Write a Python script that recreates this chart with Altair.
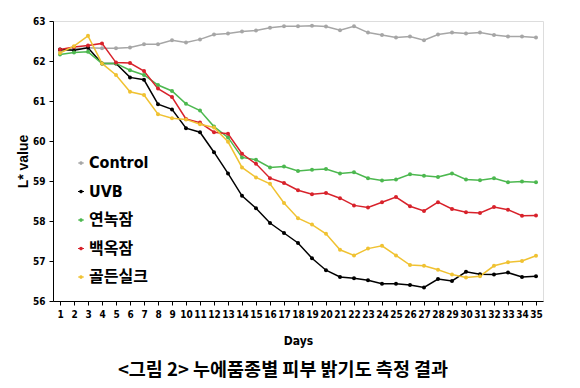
import altair as alt
import pandas as pd

days = list(range(1, 36))
series_names = ["Control", "UVB", "연녹잠", "백옥잠", "골든실크"]
series_colors = ["#a6a6a6", "#000000", "#4cb84f", "#d8222b", "#f0c232"]

control = [62.25, 62.30, 62.33, 62.32, 62.32, 62.34, 62.42, 62.42, 62.52, 62.46,
           62.54, 62.66, 62.69, 62.74, 62.76, 62.83, 62.87, 62.87, 62.88, 62.86,
           62.77, 62.87, 62.71, 62.65, 62.59, 62.61, 62.52, 62.66, 62.71, 62.69,
           62.71, 62.65, 62.61, 62.61, 62.59]
uvb = [62.29, 62.27, 62.33, 61.94, 61.94, 61.59, 61.53, 60.92, 60.79, 60.32,
       60.22, 59.72, 59.19, 58.63, 58.32, 57.95, 57.70, 57.45, 57.07, 56.77,
       56.60, 56.57, 56.52, 56.43, 56.43, 56.40, 56.34, 56.55, 56.50, 56.73,
       56.67, 56.66, 56.71, 56.60, 56.62]
yeonnok = [62.16, 62.21, 62.23, 61.94, 61.94, 61.77, 61.65, 61.40, 61.25, 60.93,
           60.76, 60.36, 60.09, 59.59, 59.53, 59.34, 59.36, 59.25, 59.28, 59.30,
           59.19, 59.22, 59.07, 59.01, 59.04, 59.17, 59.13, 59.10, 59.19, 59.04,
           59.02, 59.07, 58.97, 58.99, 58.97]
baekok = [62.29, 62.35, 62.39, 62.44, 61.96, 61.95, 61.75, 61.31, 61.10, 60.55,
          60.46, 60.22, 60.18, 59.68, 59.43, 59.07, 58.95, 58.77, 58.67, 58.70,
          58.57, 58.39, 58.34, 58.47, 58.60, 58.37, 58.25, 58.47, 58.30, 58.22,
          58.20, 58.35, 58.28, 58.13, 58.14]
golden = [62.20, 62.37, 62.63, 61.94, 61.65, 61.23, 61.15, 60.67, 60.57, 60.54,
          60.42, 60.34, 59.98, 59.34, 59.09, 58.93, 58.45, 58.07, 57.91, 57.68,
          57.28, 57.14, 57.31, 57.38, 57.14, 56.90, 56.88, 56.78, 56.66, 56.59,
          56.62, 56.88, 56.97, 57.00, 57.13]

values = [control, uvb, yeonnok, baekok, golden]
rows = []
for name, vals in zip(series_names, values):
    for d, v in zip(days, vals):
        rows.append({"Day": d, "L": v, "Series": name})
df = pd.DataFrame(rows)

NARROW = "Liberation Sans Narrow, Arial Narrow, DejaVu Sans Condensed, Liberation Sans, Noto Sans CJK KR"
SYMBOL = "M-1,0L1,0M-0.4,0A0.4,0.4,0,1,0,0.4,0A0.4,0.4,0,1,0,-0.4,0Z"

color = alt.Color(
    "Series:N",
    scale=alt.Scale(domain=series_names, range=series_colors),
    legend=alt.Legend(
        title=None, orient="none", legendX=20, legendY=134,
        labelFont=NARROW, labelFontSize=16, labelFontWeight="bold",
        labelColor="#000000", rowPadding=12.5, symbolType=SYMBOL,
        symbolSize=36, symbolStrokeWidth=1.2, labelOffset=0, padding=0,
    ),
)

x = alt.X(
    "Day:Q",
    scale=alt.Scale(domain=[0.5, 35.5], nice=False, zero=False),
    axis=alt.Axis(
        title="Days", values=days, format="d", grid=False,
        labelFont=NARROW, labelFontSize=10, labelFontWeight="bold",
        labelColor="#000000", titleFont=NARROW, titleFontSize=12,
        titleFontWeight="bold", titleColor="#000000", titlePadding=16,
        domainColor="#000000", tickColor="#000000", tickSize=4,
        labelPadding=4, labelFlush=False,
    ),
)
y = alt.Y(
    "L:Q",
    scale=alt.Scale(domain=[56, 63], nice=False, zero=False),
    axis=alt.Axis(
        title="L* value", values=[56, 57, 58, 59, 60, 61, 62, 63], grid=False,
        labelFont=NARROW, labelFontSize=10, labelFontWeight="bold",
        labelColor="#000000", titleFont="Liberation Sans", titleFontSize=14,
        titleFontWeight="bold", titleColor="#000000", titlePadding=2,
        domainColor="#000000", tickColor="#000000", tickSize=4,
        labelPadding=4,
    ),
)

base = alt.Chart(df)
lines = base.mark_line(strokeWidth=1.5).encode(x=x, y=y, color=color, order="Day:Q")
points = base.mark_point(filled=True, size=16, opacity=1).encode(x=x, y=y, color=color)

chart = (
    alt.layer(lines, points)
    .properties(
        width=490,
        height=280,
        autosize=alt.AutoSizeParams(type="none"),
        padding={"left": 45, "top": 13, "right": 25, "bottom": 79},
        title=alt.Title(
            "<그림 2> 누에품종별 피부 밝기도 측정 결과",
            orient="bottom", font="Noto Sans CJK KR", fontSize=18.5,
            fontWeight="bold", color="#000000", offset=15, dx=-15,
        ),
    )
    .configure_view(stroke=None)
    .configure(background="#ffffff")
)

chart.save("out.html", embed_options={"renderer": "svg", "actions": False})
